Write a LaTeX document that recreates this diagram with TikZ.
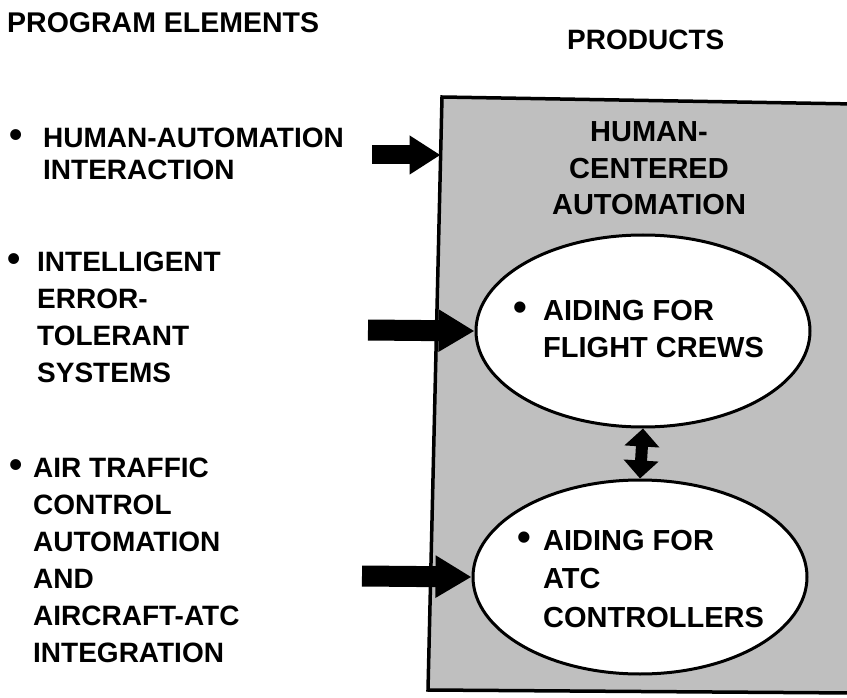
\documentclass[tikz,border=0pt]{standalone}
\usepackage{fontspec}
\setmainfont{Liberation Sans}
\usetikzlibrary{shapes.geometric,arrows.meta}
\newcommand{\bul}[1]{\makebox[#1][l]{\scalebox{1.35}{•}}}
\begin{document}
\begin{tikzpicture}[x=1pt,y=-1pt,
  leftlbl/.style={font=\fontsize{28}{37}\selectfont\bfseries, inner sep=0pt, anchor=base west},
  ovaltext/.style={font=\fontsize{29}{37.5}\selectfont\bfseries, inner sep=0pt, anchor=base west},
  headlbl/.style={font=\fontsize{28.5}{34}\selectfont\bfseries, inner sep=0pt, anchor=base west},
  oval/.style={ellipse, draw, line width=3pt, fill=white, minimum width=334pt, minimum height=192pt, inner sep=0pt},
  bigarrow/.style={line width=21pt, -{Triangle[length=36pt,width=40pt]}},
  dblarrow/.style={line width=12pt, {Triangle[length=18pt,width=34pt]}-{Triangle[length=18pt,width=34pt]}}
]
\useasboundingbox (0,0) rectangle (847,698);
\fill[white] (0,0) rectangle (847,698);

% product box
\draw[line width=3.5pt, fill=black!25] (442,97) coordinate (bTL) -- (855,104) -- (855,693) -- (428,690) coordinate (bBL) -- cycle;

% headings
\node[headlbl] (hleft) at (7,33) {PROGRAM ELEMENTS};
\node[headlbl, font=\fontsize{28}{34}\selectfont\bfseries] (hright) at (567,50) {PRODUCTS};

% box title
\node[font=\fontsize{29}{36.5}\selectfont\bfseries, inner sep=0pt, anchor=base] (btitle) at (649,142)
  {\begin{tabular}[t]{@{}c@{}}HUMAN-\\CENTERED\\AUTOMATION\end{tabular}};

% ovals
\node[oval] (e1) at (643,331) {};
\node[oval, minimum height=194pt] (e2) at (640,577) {};

\node[ovaltext] (t1) at (513,320)
  {\begin{tabular}[t]{@{}l@{}l@{}}\bul{30pt}&AIDING FOR\\&FLIGHT CREWS\end{tabular}};
\node[ovaltext, font=\fontsize{29}{38.5}\selectfont\bfseries] (t2) at (517,550)
  {\begin{tabular}[t]{@{}l@{}l@{}}\bul{26pt}&AIDING FOR\\&ATC\\&CONTROLLERS\end{tabular}};

% program elements
\node[leftlbl, font=\fontsize{28}{32}\selectfont\bfseries] (p1) at (9,148)
  {\begin{tabular}[t]{@{}l@{}l@{}}\bul{34pt}&HUMAN-AUTOMATION\\&INTERACTION\end{tabular}};
\node[leftlbl] (p2) at (7,272)
  {\begin{tabular}[t]{@{}l@{}l@{}}\bul{30pt}&INTELLIGENT\\&ERROR-\\&TOLERANT\\&SYSTEMS\end{tabular}};
\node[leftlbl] (p3) at (9,477)
  {\begin{tabular}[t]{@{}l@{}l@{}}\bul{24pt}&AIR TRAFFIC\\&CONTROL\\&AUTOMATION\\&AND\\&AIRCRAFT-ATC\\&INTEGRATION\end{tabular}};

% arrows
\coordinate (a1s) at (372,155);
\coordinate (a1e) at (440.5,155);
\coordinate (a2s) at (368,330);
\coordinate (a3s) at (362,576);
\draw[bigarrow, line width=19pt, -{Triangle[length=31pt,width=37pt]}] (a1s) -- (a1e);
\draw[bigarrow] (a2s) -- (e1.west);
\draw[bigarrow] (a3s) -- (e2.west);
\draw[dblarrow] (e1.south) -- (e2.north);
\end{tikzpicture}
\end{document}
